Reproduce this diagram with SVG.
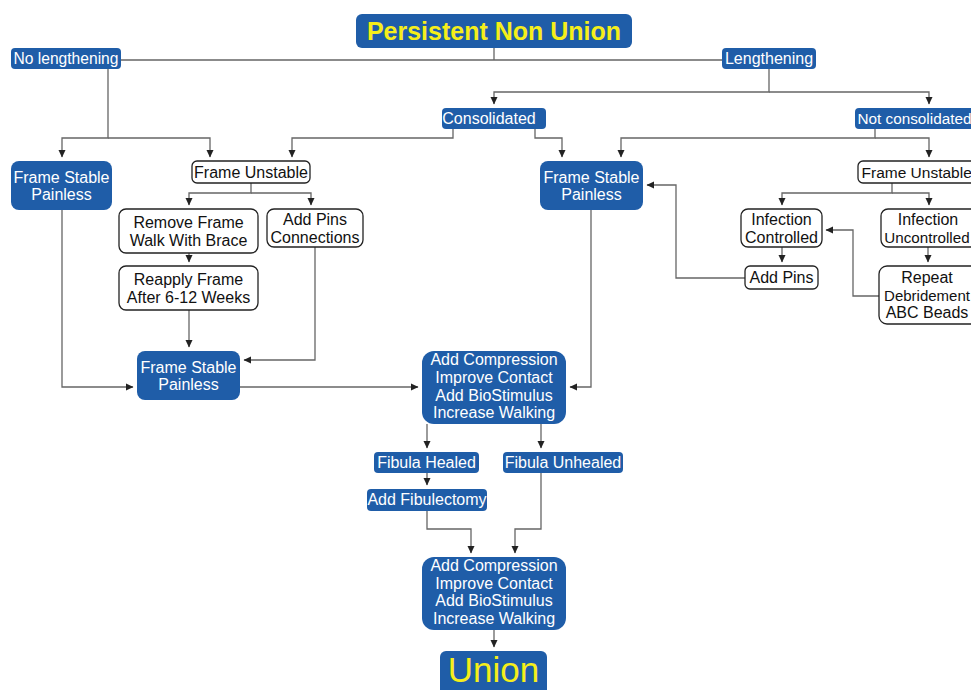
<svg xmlns="http://www.w3.org/2000/svg" width="971" height="690" viewBox="0 0 971 690">
<defs>
<marker id="ah" markerWidth="8" markerHeight="8" refX="7" refY="4" orient="auto" markerUnits="userSpaceOnUse">
<path d="M0,0.5 L7.5,4 L0,7.5 Z" fill="#222"/>
</marker>
</defs>
<style>
.b{fill:#1f5da8;}
.w{fill:#fff;stroke:#222;stroke-width:1.3;}
text{font-family:"Liberation Sans",Arial,sans-serif;font-size:16px;text-anchor:middle;}
.tw{fill:#fff;}
.tb{fill:#111;}
.ty{fill:#f5ee1a;}
.ln{fill:none;stroke:#666;stroke-width:1.3;}
.ar{marker-end:url(#ah);}
</style>
<rect width="971" height="690" fill="#fff"/>
<g id="connectors">
<path class="ln" d="M121 60 H722 M494 48 V60"/>
<path class="ln ar" d="M108 69 V138 H62 V157"/>
<path class="ln ar" d="M108 138 H210 V157"/>
<path class="ln ar" d="M769 69 V92 H494 V104"/>
<path class="ln ar" d="M769 92 H929 V104"/>
<path class="ln ar" d="M453 129 V138 H292 V157"/>
<path class="ln ar" d="M535 129 V138 H562 V157"/>
<path class="ln ar" d="M875 129 V138 H621 V157"/>
<path class="ln ar" d="M875 138 H929 V157"/>
<path class="ln ar" d="M251 183 V193 H189 V205"/>
<path class="ln ar" d="M251 193 H311 V205"/>
<path class="ln ar" d="M189 253 V262"/>
<path class="ln ar" d="M189 310 V347"/>
<path class="ln ar" d="M315 247 V360 H244"/>
<path class="ln ar" d="M62 210 V387 H133"/>
<path class="ln ar" d="M240 387 H418"/>
<path class="ln ar" d="M591 210 V387 H570"/>
<path class="ln ar" d="M745 278 H676 V185 H647"/>
<path class="ln ar" d="M892 183 V193 H782 V205"/>
<path class="ln ar" d="M892 193 H929 V205"/>
<path class="ln ar" d="M782 247 V262"/>
<path class="ln ar" d="M928 247 V262"/>
<path class="ln ar" d="M879 296 H853 V230 H826"/>
<path class="ln ar" d="M427 424 V448"/>
<path class="ln ar" d="M541 424 V448"/>
<path class="ln ar" d="M427 473 V485"/>
<path class="ln ar" d="M427 511 V529 H471 V553"/>
<path class="ln ar" d="M541 473 V529 H515 V553"/>
<path class="ln ar" d="M494 630 V647"/>
</g>
<g id="title"><rect class="b" x="356" y="14" width="276" height="34" rx="6"/><text class="ty" x="494" y="40" style="font-size:25px;font-weight:bold">Persistent Non Union</text></g>
<g id="nolengthening"><rect class="b" x="11" y="48" width="110" height="21" rx="4"/><text class="tw" x="66" y="64" style="font-size:15.6px">No lengthening</text></g>
<g id="lengthening"><rect class="b" x="722" y="48" width="94" height="21" rx="4"/><text class="tw" x="769" y="64">Lengthening</text></g>
<g id="consolidated"><rect class="b" x="442" y="108" width="104" height="21" rx="4"/><text class="tw" x="489" y="124">Consolidated</text></g>
<g id="notconsolidated"><rect class="b" x="855" y="108" width="130" height="21" rx="4"/><text class="tw" x="857.5" y="124" style="text-anchor:start;font-size:15.3px">Not consolidated</text></g>
<g id="fsp1"><rect class="b" x="11" y="161" width="101" height="49" rx="8"/><text class="tw" x="61.5" y="183">Frame Stable</text><text class="tw" x="61.5" y="200">Painless</text></g>
<g id="fu1"><rect class="w" x="192" y="161" width="118" height="22" rx="5"/><text class="tb" x="251" y="178">Frame Unstable</text></g>
<g id="removeframe"><rect class="w" x="119" y="209" width="139" height="44" rx="7"/><text class="tb" x="188.5" y="228">Remove Frame</text><text class="tb" x="188.5" y="246">Walk With Brace</text></g>
<g id="addpinsconn"><rect class="w" x="267" y="209" width="96" height="38" rx="7"/><text class="tb" x="315" y="225">Add Pins</text><text class="tb" x="315" y="243">Connections</text></g>
<g id="reapply"><rect class="w" x="119" y="266" width="139" height="44" rx="7"/><text class="tb" x="188.5" y="285">Reapply Frame</text><text class="tb" x="188.5" y="303">After 6-12 Weeks</text></g>
<g id="fsp2"><rect class="b" x="137" y="351" width="103" height="49" rx="8"/><text class="tw" x="188.5" y="373">Frame Stable</text><text class="tw" x="188.5" y="390">Painless</text></g>
<g id="fsp3"><rect class="b" x="540" y="161" width="103" height="49" rx="8"/><text class="tw" x="591.5" y="183">Frame Stable</text><text class="tw" x="591.5" y="200">Painless</text></g>
<g id="fu2"><rect class="w" x="858" y="161" width="125" height="22" rx="5"/><text class="tb" x="861.5" y="178" style="text-anchor:start;font-size:15.5px">Frame Unstable</text></g>
<g id="infcontrolled"><rect class="w" x="741" y="209" width="81" height="38" rx="7"/><text class="tb" x="781.5" y="225">Infection</text><text class="tb" x="781.5" y="243">Controlled</text></g>
<g id="addpins"><rect class="w" x="745" y="266" width="73" height="23" rx="5"/><text class="tb" x="781.5" y="283">Add Pins</text></g>
<g id="infuncontrolled"><rect class="w" x="881" y="209" width="98" height="38" rx="7"/><text class="tb" x="928" y="225">Infection</text><text class="tb" x="927" y="243" style="font-size:15.2px">Uncontrolled</text></g>
<g id="repeat"><rect class="w" x="879" y="266" width="100" height="58" rx="8"/><text class="tb" x="927" y="283">Repeat</text><text class="tb" x="927" y="301" style="font-size:15px">Debridement</text><text class="tb" x="927" y="318">ABC Beads</text></g>
<g id="addcomp1"><rect class="b" x="422" y="351" width="144" height="73" rx="12"/><text class="tw" x="494" y="365">Add Compression</text><text class="tw" x="494" y="383">Improve Contact</text><text class="tw" x="494" y="401">Add BioStimulus</text><text class="tw" x="494" y="418">Increase Walking</text></g>
<g id="fibhealed"><rect class="b" x="374" y="452" width="105" height="21" rx="4"/><text class="tw" x="426.5" y="468">Fibula Healed</text></g>
<g id="fibunhealed"><rect class="b" x="503" y="452" width="120" height="21" rx="4"/><text class="tw" x="563" y="468">Fibula Unhealed</text></g>
<g id="fibulectomy"><rect class="b" x="367" y="489" width="120" height="22" rx="4"/><text class="tw" x="427" y="505">Add Fibulectomy</text></g>
<g id="addcomp2"><rect class="b" x="422" y="557" width="144" height="73" rx="12"/><text class="tw" x="494" y="571">Add Compression</text><text class="tw" x="494" y="589">Improve Contact</text><text class="tw" x="494" y="606">Add BioStimulus</text><text class="tw" x="494" y="624">Increase Walking</text></g>
<g id="union"><rect class="b" x="440" y="651" width="107" height="50" rx="6"/><text class="ty" x="493.5" y="682" style="font-size:35px">Union</text></g>
</svg>
